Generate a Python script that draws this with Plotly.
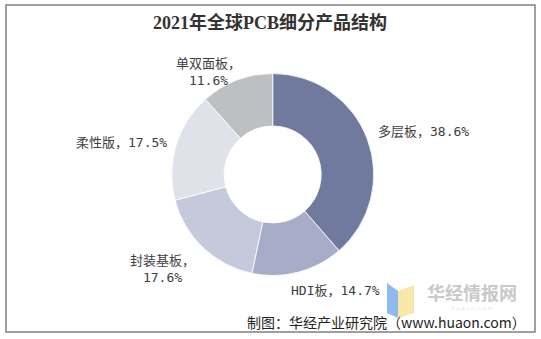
import plotly.graph_objects as go

W, H = 541, 339

categories = ["多层板", "HDI板", "封装基板", "柔性版", "单双面板"]
values = [38.6, 14.7, 17.6, 17.5, 11.6]
colors = ["#6F7A9E", "#A7ACC8", "#C6C9DB", "#E0E2E9", "#BEBFC0"]
title_text = "2021年全球PCB细分产品结构"
source_text = "制图：华经产业研究院（www.huaon.com）"

# label anchor points in pixels (text placement only)
label_pos = [(423, 132), (335, 290), (162, 269), (121, 142), (208, 72)]
label_two_lines = [False, False, True, False, True]

def px(x):
    return x / W

def py(y):
    return 1 - y / H

cx, cy, r = 272.7, 174.5, 101

fig = go.Figure()
fig.add_trace(go.Pie(
    labels=categories,
    values=values,
    sort=False,
    direction="clockwise",
    rotation=0,
    hole=0.48,
    marker=dict(colors=colors, line=dict(color="white", width=0.8)),
    textinfo="none",
    hoverinfo="label+percent",
    showlegend=False,
    domain=dict(x=[px(cx - r), px(cx + r)], y=[py(cy + r), py(cy - r)]),
))

lab_font = dict(family="DejaVu Sans Mono, Noto Sans CJK SC", size=13, color="#404040")
for cat, val, (lx, ly), two in zip(categories, values, label_pos, label_two_lines):
    sep = "，<br>" if two else "，"
    fig.add_annotation(
        x=px(lx), y=py(ly), xref="paper", yref="paper",
        text=f"{cat}{sep}{val:.1f}%", showarrow=False,
        xanchor="center", yanchor="middle", align="center",
        font=lab_font,
    )

# title
fig.add_annotation(
    x=px(270), y=py(22), xref="paper", yref="paper",
    text=f"<b>{title_text}</b>", showarrow=False,
    xanchor="center", yanchor="middle",
    font=dict(family="Liberation Serif, Noto Sans CJK SC", size=18, color="#333333"),
)

# watermark text
fig.add_annotation(
    x=px(472), y=py(292), xref="paper", yref="paper",
    text="<b>华经情报网</b>", showarrow=False,
    xanchor="center", yanchor="middle",
    font=dict(family="Noto Sans CJK SC", size=18, color="#C9C9C9"),
)
fig.add_annotation(
    x=px(472), y=py(308), xref="paper", yref="paper",
    text="h u a o n . c o m", showarrow=False,
    xanchor="center", yanchor="middle", borderpad=0,
    font=dict(family="DejaVu Sans", size=5, color="#E2E2E2"),
)

# source
fig.add_annotation(
    x=px(528), y=py(322), xref="paper", yref="paper",
    text=source_text, showarrow=False,
    xanchor="right", yanchor="middle",
    font=dict(family="Noto Sans CJK SC", size=14, color="#222222"),
)

shapes = [
    dict(type="rect", xref="paper", yref="paper",
         x0=px(6), x1=px(535), y0=py(332), y1=py(5),
         line=dict(color="#808080", width=1.5), fillcolor="rgba(0,0,0,0)", layer="below"),
]

def path(points):
    s = "M " + " L ".join(f"{px(x)},{py(y)}" for x, y in points) + " Z"
    return s

shapes.append(dict(type="path", xref="paper", yref="paper",
                   path=path([(387, 283), (398, 291), (398, 318), (387, 313)]),
                   fillcolor="#8FB8EC", line=dict(width=0), layer="below"))
shapes.append(dict(type="path", xref="paper", yref="paper",
                   path=path([(398, 291), (414, 285), (414, 313), (398, 318)]),
                   fillcolor="#F8E7A6", line=dict(width=0), layer="below"))

fig.update_layout(
    width=W, height=H,
    margin=dict(l=0, r=0, t=0, b=0),
    paper_bgcolor="white",
    plot_bgcolor="white",
    shapes=shapes,
)

fig.write_html("out.html")
